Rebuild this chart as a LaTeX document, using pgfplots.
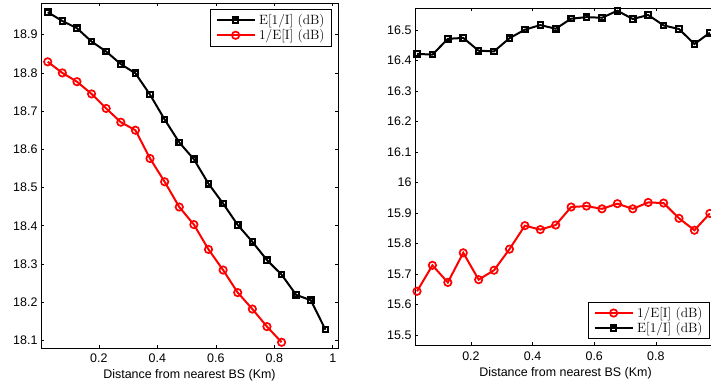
\documentclass[border=0pt]{standalone}
\usepackage{fontspec}
\usepackage{pgfplots}
\pgfplotsset{compat=1.18}
\newfontfamily\arial{Liberation Sans}

\pgfplotstableread{
x y
0.025 18.959
0.075 18.936
0.125 18.917
0.175 18.882
0.225 18.856
0.275 18.823
0.325 18.799
0.375 18.743
0.425 18.678
0.475 18.618
0.525 18.574
0.575 18.510
0.625 18.458
0.675 18.402
0.725 18.358
0.775 18.310
0.825 18.272
0.875 18.219
0.925 18.205
0.975 18.128
}\leftblack

\pgfplotstableread{
x y
0.025 18.829
0.075 18.800
0.125 18.777
0.175 18.745
0.225 18.707
0.275 18.671
0.325 18.650
0.375 18.576
0.425 18.515
0.475 18.449
0.525 18.403
0.575 18.338
0.625 18.284
0.675 18.225
0.725 18.182
0.775 18.136
0.825 18.095
}\leftred

\pgfplotstableread{
x y
0.025 16.422
0.075 16.419
0.125 16.471
0.175 16.474
0.225 16.432
0.275 16.430
0.325 16.473
0.375 16.501
0.425 16.516
0.475 16.504
0.525 16.537
0.575 16.542
0.625 16.540
0.675 16.563
0.725 16.536
0.775 16.549
0.825 16.515
0.875 16.503
0.925 16.454
0.975 16.491
}\rightblack

\pgfplotstableread{
x y
0.025 15.644
0.075 15.729
0.125 15.673
0.175 15.770
0.225 15.682
0.275 15.713
0.325 15.782
0.375 15.859
0.425 15.846
0.475 15.861
0.525 15.920
0.575 15.923
0.625 15.914
0.675 15.931
0.725 15.914
0.775 15.935
0.825 15.933
0.875 15.883
0.925 15.844
0.975 15.899
}\rightred

\pgfplotsset{
 mystyle/.style={
  scale only axis,
  axis line style={line width=0.8bp},
  tick align=inside,
  major tick length=3bp,
  tick style={line width=0.6bp, black},
  ticklabel style={font=\arial\fontsize{12.5}{14}\selectfont},
  xticklabel style={yshift=-2.5bp},
  /pgf/number format/assume math mode=true,
  xlabel style={font=\arial\fontsize{12.5}{14}\selectfont},
  xlabel={Distance from nearest BS (Km)},
  legend style={font=\fontsize{13.5}{15}\selectfont, draw=black, line width=0.8bp, fill=white,
    inner xsep=5.5bp, inner ysep=3.5bp, column sep=2bp, row sep=0.5bp, nodes={inner sep=1.5bp}},
  legend cell align=left,
  legend image code/.code={\draw[line width=2bp, mark repeat=2,mark phase=2] plot coordinates {(0bp,0bp)(19bp,0bp)(38bp,0bp)};},
 },
 blk/.style={black, line width=2bp, mark=square, mark size=2.7bp, mark options={line width=2.2bp, solid}},
 rd/.style={red, line width=2bp, mark=o, mark size=3.7bp, mark options={line width=1.7bp, solid}},
}

\begin{document}
\begin{tikzpicture}
\begin{axis}[mystyle,
  at={(41bp,42bp)}, anchor=south west, width=297bp, height=345bp,
  xmin=0.002, xmax=1.018, ymin=18.08, ymax=18.983,
  xtick={0.2,0.4,0.6,0.8,1},
  ytick={18.1,18.2,18.3,18.4,18.5,18.6,18.7,18.8,18.9},
  legend style={at={(1,1)}, anchor=north east, xshift=-6bp, yshift=-6bp},
]
\addplot[blk] table {\leftblack};
\addlegendentry{E[1/I] (dB)}
\addplot[rd] table {\leftred};
\addlegendentry{1/E[I] (dB)}
\end{axis}
\begin{axis}[mystyle,
  at={(415bp,44.7bp)}, anchor=south west, width=301bp, height=337.3bp,
  xmin=0.0185, xmax=0.995, ymin=15.467, ymax=16.572,
  xtick={0.2,0.4,0.6,0.8,1},
  ytick={15.5,15.6,15.7,15.8,15.9,16,16.1,16.2,16.3,16.4,16.5},
  legend style={at={(1,0)}, anchor=south east, xshift=-6bp, yshift=6bp},
]
\addplot[rd] table {\rightred};
\addlegendentry{1/E[I] (dB)}
\addplot[blk] table {\rightblack};
\addlegendentry{E[1/I] (dB)}
\end{axis}
\pgfresetboundingbox
\useasboundingbox (0bp,0bp) rectangle (711bp,390bp);
\end{tikzpicture}
\end{document}
